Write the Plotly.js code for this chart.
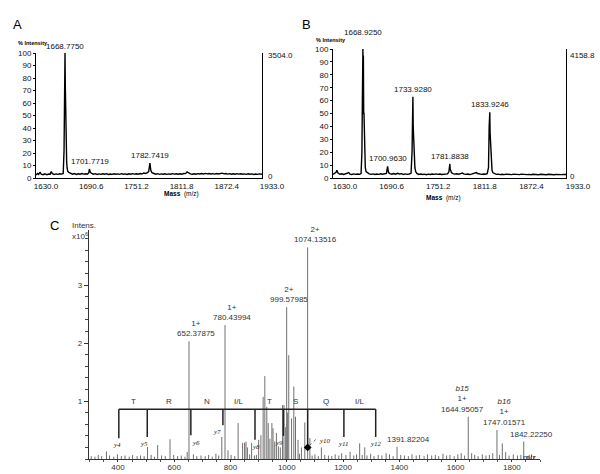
<!DOCTYPE html>
<html>
<head>
<meta charset="utf-8">
<script src="https://cdn.plot.ly/plotly-3.0.1.min.js"></script>
<style>
  html, body { margin: 0; padding: 0; background: #fff; }
  #grafica { width: 600px; height: 474px; }
</style>
</head>
<body>
<div id="grafica"></div>
<script>
// Espectro A (% intensidad frente a masa)
const massA = [1630, 1632, 1633.5, 1635.5, 1637, 1639.5, 1642, 1644.5, 1647, 1649, 1650.5, 1652, 1654.5, 1657, 1659.5, 1662, 1664.5, 1666.5,
  1667.6, 1668.2, 1668.6, 1668.9, 1669.3, 1669.7, 1670.1, 1670.6, 1671.1, 1671.7, 1672.5, 1674, 1676.5, 1679, 1681.5, 1684, 1686.5, 1689,
  1691.5, 1694, 1696.5, 1699, 1700.8, 1701.5, 1702.0, 1702.8, 1704.5, 1707, 1709.5, 1712, 1714.5, 1717, 1719.5, 1722, 1724.5, 1727,
  1729.5, 1732, 1734.5, 1737, 1739.5, 1742, 1744.5, 1747, 1749.5, 1752, 1754.5, 1757, 1759.5, 1762, 1764.5, 1767, 1769.5, 1772, 1774.5,
  1777, 1779.5, 1781.2, 1782.0, 1782.7, 1783.3, 1784, 1785.5, 1788, 1790.5, 1793, 1795.5, 1798, 1800.5, 1803, 1805.5, 1808, 1810.5,
  1813, 1815.5, 1818, 1820.5, 1823, 1825.5, 1828, 1830.5, 1832.5, 1834.5, 1837, 1839.5, 1842, 1844.5, 1847, 1849.5, 1852, 1854.5,
  1857, 1859.5, 1862, 1864.5, 1867, 1869.5, 1872, 1874.5, 1877, 1879.5, 1882, 1884.5, 1887, 1889.5, 1892, 1894.5, 1897, 1899.5,
  1902, 1904.5, 1907, 1909.5, 1912, 1914.5, 1917, 1919.5, 1922, 1924.5, 1927, 1929.5, 1933];
const intA = [2.5, 3.6, 2.9, 4.8, 3.0, 2.6, 3.3, 2.7, 3.2, 3.0, 5.2, 3.4, 2.8, 3.3, 2.9, 3.4, 3.1, 3.6,
  22, 64, 97, 100, 74, 54, 38, 22, 13, 8, 5.5, 4.4, 3.5, 3.0, 3.6, 2.9, 3.4, 3.0,
  3.6, 3.1, 3.4, 3.0, 4.2, 7.2, 6.5, 4.6, 3.6, 3.0, 3.5, 2.8, 3.3, 2.9, 3.4, 3.0, 3.5, 2.8,
  3.2, 2.9, 3.4, 3.0, 3.3, 2.9, 3.5, 3.0, 3.3, 2.8, 3.4, 3.0, 3.5, 3.1, 3.4, 3.0, 3.6, 3.2, 4.0,
  3.6, 4.2, 5.5, 10, 12, 9, 6, 4.3, 3.4, 3.0, 3.5, 2.9, 3.3, 3.0, 3.4, 2.9, 3.3, 3.0,
  3.5, 3.1, 3.4, 3.0, 3.4, 3.0, 3.6, 3.5, 4.8, 4.0, 3.3, 3.0, 3.4, 3.0, 3.5, 3.2, 3.6, 3.2,
  3.7, 3.3, 3.6, 3.2, 3.5, 3.1, 3.6, 3.2, 3.5, 3.9, 3.3, 3.6, 3.1, 3.5, 3.0, 3.4, 3.0, 3.5,
  3.1, 3.4, 3.0, 3.3, 2.9, 3.4, 3.0, 3.3, 2.8, 3.2, 2.9, 3.3, 3.0];
const peakMzA = [1668.7750, 1701.7719, 1782.7419];
const peakIntA = [100, 7.2, 12];

// Espectro B
const massB = [1630, 1632, 1634, 1635, 1636.5, 1639, 1641.5, 1644, 1646.5, 1649, 1650.5, 1652, 1654.5, 1657, 1659.5, 1662, 1664.5, 1666.5,
  1667.6, 1668.2, 1668.6, 1668.9, 1669.2, 1669.5, 1669.9, 1670.3, 1670.8, 1671.3, 1672, 1673, 1674.5, 1677, 1679.5, 1682, 1684.5, 1687,
  1689.5, 1692, 1694.5, 1697, 1699.5, 1700.4, 1701.0, 1701.6, 1702.3, 1704, 1706.5, 1709, 1711.5, 1714, 1716.5, 1719, 1721.5, 1724,
  1726.5, 1729, 1731.5, 1732.8, 1733.5, 1733.9, 1734.3, 1734.7, 1735.2, 1735.8, 1736.5, 1737.5, 1739, 1741.5, 1744, 1746.5, 1749,
  1751.5, 1754, 1756.5, 1759, 1761.5, 1764, 1766.5, 1769, 1771.5, 1774, 1776.5, 1779, 1780.8, 1781.5, 1781.9, 1782.4, 1783, 1784,
  1786, 1788.5, 1791, 1793.5, 1796, 1798, 1800, 1802.5, 1805, 1807.5, 1810, 1812.5, 1815, 1816.5, 1818, 1820.5, 1823, 1825.5, 1828,
  1830.5, 1832.2, 1833.1, 1833.6, 1833.9, 1834.3, 1834.8, 1835.3, 1836, 1836.8, 1838, 1840, 1842.5, 1845, 1847.5, 1850, 1852.5,
  1855, 1857.5, 1860, 1862.5, 1865, 1867.5, 1870, 1872.5, 1875, 1877.5, 1880, 1882.5, 1885, 1887.5, 1890, 1892.5, 1895, 1897.5,
  1900, 1902.5, 1905, 1907.5, 1910, 1912.5, 1915, 1917.5, 1920, 1922.5, 1925, 1927.5, 1930, 1933];
const intB = [2.8, 3.4, 4.5, 6.0, 3.8, 2.9, 3.3, 2.7, 3.1, 3.4, 4.2, 3.0, 2.7, 3.2, 2.8, 3.1, 2.8, 3.4,
  20, 60, 95, 100, 62, 95, 50, 50, 28, 13, 8, 5, 4, 3.2, 2.8, 3.2, 2.7, 3.1,
  2.8, 3.3, 2.9, 3.2, 3.6, 7, 9, 6.5, 4.2, 3.4, 2.9, 3.5, 3.0, 3.6, 3.1, 3.4, 2.8, 3.2,
  2.8, 3.1, 3.6, 20, 55, 63, 40, 35, 18, 15, 8, 5, 3.6, 2.8, 3.1, 2.7, 3.0,
  2.6, 3.0, 2.7, 3.1, 2.8, 3.2, 2.8, 3.1, 2.7, 3.0, 2.8, 3.2, 5, 10, 11, 7, 6, 4.2,
  3.4, 3.0, 3.3, 2.9, 3.4, 3.8, 3.2, 2.8, 3.1, 2.7, 3.0, 3.3, 3.6, 4.2, 3.5, 3.0, 2.8, 3.1, 2.9,
  3.3, 8, 40, 48, 51, 35, 30, 16, 10, 6, 4, 3.2, 2.8, 3.0, 2.6, 2.9, 2.6,
  3.0, 2.7, 2.9, 2.6, 3.0, 2.7, 2.9, 2.6, 3.0, 2.7, 2.9, 2.6, 2.8, 2.5, 2.9, 2.6, 2.8, 2.5,
  2.9, 2.6, 2.8, 2.5, 2.9, 2.6, 2.8, 2.5, 2.8, 2.6, 2.9, 2.6, 2.8, 2.7];
const peakMzB = [1668.9250, 1700.9630, 1733.9280, 1781.8838, 1833.9246];
const peakIntB = [100, 9, 63, 11, 51];

// Marcas del eje de masas (A y B)
const ticksMass = [1630.0, 1690.6, 1751.2, 1811.8, 1872.4, 1933.0];
const maxCountsA = '3504.0';
const maxCountsB = '4158.8';

// Espectro C (MS/MS, x10^6)
const peakMzC = [359, 505, 541, 585, 646, 652.38, 769, 780.44, 791, 827, 843, 850, 855, 860, 875, 900, 908, 916, 922, 929, 934,
  940, 947, 951, 957, 963, 970, 977, 985, 990, 996, 999.58, 1003, 1007, 1017, 1025, 1031, 1040, 1052, 1064, 1074.14, 1082, 1123,
  1259, 1277, 1353, 1391.82, 1644.95, 1657, 1747.02, 1766, 1842.22, 1870];
const peakIntC = [0.13, 0.21, 0.24, 0.34, 0.12, 2.03, 0.38, 2.31, 0.15, 0.62, 0.28, 0.28, 0.3, 0.2, 0.28, 0.33, 0.41, 1.07, 1.43, 0.9, 0.62,
  0.35, 0.62, 0.53, 0.3, 0.45, 0.22, 0.2, 0.93, 0.93, 0.55, 2.62, 0.8, 1.79, 0.7, 1.25, 0.73, 0.33, 0.2, 0.63, 3.65, 0.36, 0.2,
  0.27, 0.2, 0.1, 0.21, 0.73, 0.1, 0.5, 0.27, 0.3, 0.08];
const grassMz = [305, 318, 330, 342, 370, 385, 398, 412, 425, 440, 452, 468, 480, 493, 518, 530, 555, 568, 598, 612, 625, 638, 668, 680,
  695, 710, 722, 735, 748, 758, 802, 815, 868, 885, 892, 1045, 1090, 1100, 1112, 1135, 1148, 1160, 1172, 1185, 1195, 1210, 1225,
  1238, 1248, 1268, 1285, 1298, 1310, 1325, 1338, 1365, 1378, 1405, 1418, 1432, 1445, 1460, 1472, 1488, 1500, 1515, 1528, 1540,
  1555, 1568, 1580, 1595, 1608, 1620, 1632, 1668, 1680, 1695, 1708, 1720, 1732, 1756, 1778, 1790, 1805, 1820, 1832, 1855, 1862, 1878];
const grassInt = [0.05, 0.04, 0.07, 0.05, 0.06, 0.04, 0.08, 0.05, 0.06, 0.04, 0.07, 0.05, 0.06, 0.05, 0.07, 0.04, 0.06, 0.05, 0.07, 0.05,
  0.06, 0.04, 0.08, 0.05, 0.06, 0.05, 0.07, 0.04, 0.09, 0.06, 0.07, 0.05, 0.08, 0.06, 0.07, 0.09, 0.06, 0.08, 0.05, 0.07, 0.06,
  0.05, 0.08, 0.06, 0.1, 0.07, 0.12, 0.06, 0.08, 0.07, 0.06, 0.09, 0.05, 0.07, 0.06, 0.08, 0.05, 0.07, 0.06, 0.05, 0.08, 0.06,
  0.07, 0.05, 0.08, 0.06, 0.07, 0.05, 0.09, 0.06, 0.07, 0.05, 0.08, 0.1, 0.06, 0.07, 0.05, 0.08, 0.06, 0.07, 0.1, 0.07, 0.12,
  0.06, 0.08, 0.06, 0.07, 0.05, 0.07, 0.05];

// Picos etiquetados en C
const labelMzC = [652.38, 780.44, 999.58, 1074.14, 1391.82, 1644.95, 1747.02, 1842.22];
const labelIntC = [2.03, 2.31, 2.62, 3.65, 0.21, 0.73, 0.5, 0.3];
const labelTextC = ['1+<br>652.37875', '1+<br>780.43994', '2+<br>999.57985', '2+<br>1074.13516', '1391.82204',
  '<i>b15</i><br>1+<br>1644.95057', '<i>b16</i><br>1+<br>1747.01571', '1842.22250'];

// Serie de iones y y residuos
const yIonName = ['y4', 'y5', 'y6', 'y7', 'y8', 'y9', 'y10', 'y11', 'y12'];
const yIonMz = [403, 504, 659, 773, 887, 988, 1074.14, 1203, 1316];
const yIonEnd = [0.36, 0.38, 0.41, 0.58, 0.33, 0.4, 0.2, 0.38, 0.38];
const residues = ['T', 'R', 'N', 'I/L', 'T', 'S', 'Q', 'I/L'];
const ladderLevel = 0.86;

// Conversión píxel -> papel
const W = 600, H = 474;
const px = x => x / W;
const py = y => 1 - y / H;

const SANS = "'Liberation Sans', Arial, sans-serif";

const fontAB = { family: SANS, size: 8, color: '#111' };
const fontC = { family: SANS, size: 8, color: '#333' };

// Trazas
const traceA = {
  x: massA, y: intA, xaxis: 'x', yaxis: 'y',
  type: 'scatter', mode: 'lines',
  line: { color: '#000', width: 1.4 }, hoverinfo: 'skip'
};
const traceB = {
  x: massB, y: intB, xaxis: 'x2', yaxis: 'y2',
  type: 'scatter', mode: 'lines',
  line: { color: '#000', width: 1.4 }, hoverinfo: 'skip'
};

const stickX = [], stickY = [];
grassMz.forEach((m, i) => { stickX.push(m, m, null); stickY.push(0, grassInt[i], null); });
peakMzC.forEach((m, i) => { stickX.push(m, m, null); stickY.push(0, peakIntC[i], null); });
const traceC = {
  x: stickX, y: stickY, xaxis: 'x3', yaxis: 'y3',
  type: 'scatter', mode: 'lines',
  line: { color: '#707070', width: 1 }, hoverinfo: 'skip'
};

const ladderX = [yIonMz[0], yIonMz[yIonMz.length - 1], null];
const ladderY = [ladderLevel, ladderLevel, null];
yIonMz.forEach((m, i) => { ladderX.push(m, m, null); ladderY.push(ladderLevel, yIonEnd[i], null); });
const traceLadder = {
  x: ladderX, y: ladderY, xaxis: 'x3', yaxis: 'y3',
  type: 'scatter', mode: 'lines',
  line: { color: '#222', width: 1.5 }, hoverinfo: 'skip'
};
const traceDiamond = {
  x: [yIonMz[6]], y: [yIonEnd[6]], xaxis: 'x3', yaxis: 'y3',
  type: 'scatter', mode: 'markers',
  marker: { symbol: 'diamond', size: 6, color: '#000' }, hoverinfo: 'skip'
};

// Anotaciones
const annotations = [];
function texto(text, x, y, opts) {
  annotations.push(Object.assign({ text, x, y, xref: 'paper', yref: 'paper', showarrow: false }, opts));
}

texto('A', px(11), py(15), { font: { family: SANS, size: 13, color: '#000' } });
texto('B', px(306), py(15), { font: { family: SANS, size: 13, color: '#000' } });
texto('C', px(48), py(226), { font: { family: SANS, size: 13, color: '#000' } });

texto('<b>% Intensity</b>', px(50), py(38), { xanchor: 'right', font: { family: SANS, size: 5.5, color: '#000' } });
texto('<b>% Intensity</b>', px(348), py(35), { xanchor: 'right', font: { family: SANS, size: 5.5, color: '#000' } });
texto('<b>Mass</b>  (m/z)', px(162), py(194), { font: { family: SANS, size: 6.5, color: '#000' } });
texto('<b>Mass</b>  (m/z)', px(463), py(198), { font: { family: SANS, size: 6.5, color: '#000' } });

texto(maxCountsA, px(266), py(49), { xanchor: 'left', font: fontAB });
texto('0', px(266), py(176), { xanchor: 'left', font: fontAB });
texto(maxCountsB, px(568), py(49), { xanchor: 'left', font: fontAB });
texto('0', px(568), py(176), { xanchor: 'left', font: fontAB });

const shiftA = [0, 1, 1];
peakMzA.forEach((m, i) => {
  annotations.push({ xref: 'x', yref: 'y', x: m, y: peakIntA[i], text: m.toFixed(4), showarrow: false,
    yanchor: 'bottom', yshift: shiftA[i], font: fontAB });
});
const shiftB = [10, 1, 1, 1, 1];
peakMzB.forEach((m, i) => {
  annotations.push({ xref: 'x2', yref: 'y2', x: m, y: peakIntB[i], text: m.toFixed(4), showarrow: false,
    yanchor: 'bottom', yshift: shiftB[i], font: fontAB });
});

// Etiquetas de picos en C
const dxC = [7, 7, 2, 8, 11, -6, 8, 8];
labelMzC.forEach((m, i) => {
  annotations.push({ xref: 'x3', yref: 'y3', x: m, y: labelIntC[i], text: labelTextC[i], showarrow: false,
    yanchor: 'bottom', yshift: 1, xshift: dxC[i], font: fontC });
});

// Residuos sobre la escalera
residues.forEach((r, i) => {
  annotations.push({ xref: 'x3', yref: 'y3', x: (yIonMz[i] + yIonMz[i + 1]) / 2, y: ladderLevel, text: r,
    showarrow: false, yanchor: 'bottom', yshift: 1, font: fontC });
});

// Etiquetas y-ion
const dxY = [-2, -3, 5, -6, 1, -4, 17, 0, 0];
const dyY = [-1, -1, -2, -1, -1, -1, 12, -1, -1];
yIonName.forEach((n, i) => {
  annotations.push({ xref: 'x3', yref: 'y3', x: yIonMz[i], y: yIonEnd[i], text: '<i>' + n + '</i>', showarrow: false,
    yanchor: 'top', xshift: dxY[i], yshift: dyY[i], font: { family: "'Liberation Serif', serif", size: 7, color: '#222' } });
});

texto('Intens.', px(98), py(226), { xanchor: 'right', font: fontC });
texto('x10<sup>6</sup>', px(90), py(236), { xanchor: 'right', font: fontC });
texto('m/z', px(538), py(464), { font: fontC });

const shapes = [{
  type: 'line', xref: 'x3', yref: 'y3', x0: 1080, y0: 0.23, x1: 1104, y1: 0.34,
  line: { color: '#444', width: 0.8, dash: 'dot' }
}];

const ejeAB = {
  showgrid: false, zeroline: false, showline: true, linecolor: '#000', linewidth: 1,
  tickfont: fontAB, fixedrange: true
};

const layout = {
  width: W, height: H,
  margin: { l: 0, r: 0, t: 0, b: 0 },
  paper_bgcolor: '#fff', plot_bgcolor: '#fff',
  showlegend: false,
  xaxis: Object.assign({}, ejeAB, {
    domain: [px(36), px(262)], range: [1630, 1933], anchor: 'y', ticks: '',
    tickmode: 'array', tickvals: ticksMass, ticktext: ticksMass.map(v => v.toFixed(1)), ticklabelshift: 10
  }),
  yaxis: Object.assign({}, ejeAB, {
    domain: [py(178), py(53)], range: [0, 100], anchor: 'x', dtick: 10, mirror: true,
    ticks: 'outside', ticklen: 2, tickcolor: '#000'
  }),
  xaxis2: Object.assign({}, ejeAB, {
    domain: [px(333), px(566)], range: [1630, 1933], anchor: 'y2', ticks: '',
    tickmode: 'array', tickvals: ticksMass, ticktext: ticksMass.map(v => v.toFixed(1)), ticklabelshift: 12
  }),
  yaxis2: Object.assign({}, ejeAB, {
    domain: [py(178), py(49)], range: [0, 100], anchor: 'x2', dtick: 10, mirror: true,
    ticks: 'outside', ticklen: 2, tickcolor: '#000'
  }),
  xaxis3: {
    domain: [px(89), px(540)], range: [297, 1900], anchor: 'y3',
    showgrid: false, zeroline: false, showline: true, linecolor: '#333', linewidth: 1.3,
    tickmode: 'linear', tick0: 0, dtick: 200, ticks: 'outside', ticklen: 2, tickcolor: '#333',
    ticklabelstandoff: -2,
    minor: { dtick: 50, ticks: 'outside', ticklen: 1.5, tickcolor: '#555' },
    tickfont: fontC, fixedrange: true
  },
  yaxis3: {
    domain: [py(459), py(230)], range: [0, 3.95], anchor: 'x3',
    showgrid: false, zeroline: false, showline: true, linecolor: '#333', linewidth: 1.3,
    tickmode: 'array', tickvals: [1, 2, 3], ticks: 'outside', ticklen: 4, tickcolor: '#333',
    minor: { dtick: 0.2, ticks: 'outside', ticklen: 2.5, tickcolor: '#444' },
    tickfont: fontC, fixedrange: true
  },
  annotations: annotations,
  shapes: shapes
};

Plotly.newPlot('grafica', [traceA, traceB, traceC, traceLadder, traceDiamond], layout, { staticPlot: true, displayModeBar: false });
</script>
</body>
</html>
